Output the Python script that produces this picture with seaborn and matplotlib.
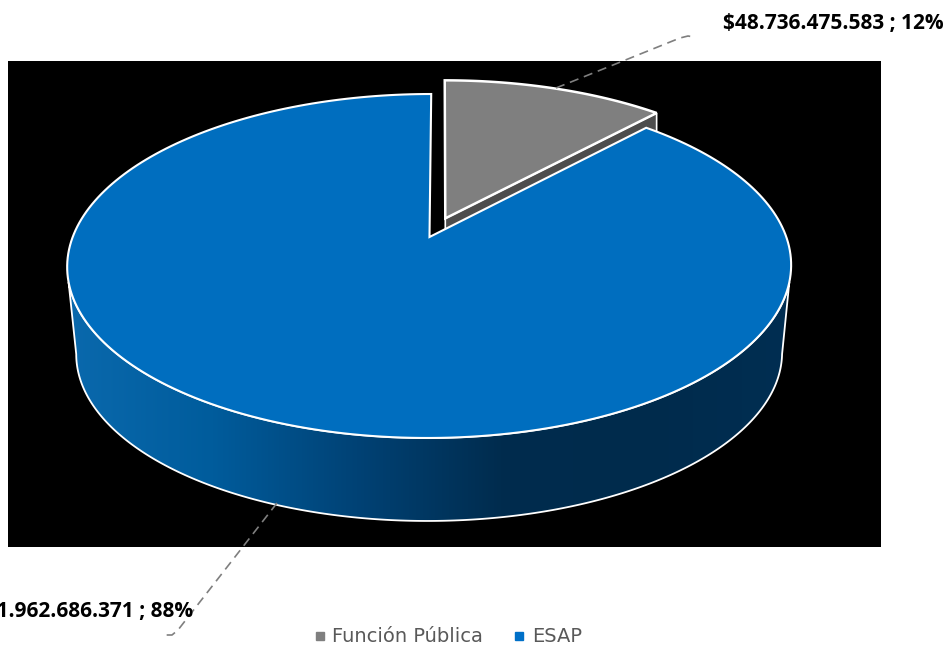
import numpy as np
import seaborn as sns
import matplotlib
matplotlib.use("Agg")
import matplotlib.pyplot as plt
from matplotlib.patches import Polygon
from matplotlib.lines import Line2D

categories = ["Función Pública", "ESAP"]
values = [48736475583, 361962686371]
value_labels = ["$48.736.475.583", "$361.962.686.371"]

sns.set_theme(style="white")

GRAY = "#7f7f7f"
GRAY_SIDE = "#4d4d4d"
BLUE = "#006ebf"
side_cmap = sns.blend_palette(["#0a69ad", "#005c9c", "#004275", "#002c4e", "#002b4c", "#002e52"], as_cmap=True)

W, H = 949, 646
fig = plt.figure(figsize=(W / 100, H / 100), dpi=100)
# axes run in pixels of the black panel
ax = fig.add_axes([8 / W, 1 - 547 / H, 873 / W, 486 / H])
ax.set_facecolor("black")
ax.set_xticks([])
ax.set_yticks([])
for s in ax.spines.values():
    s.set_visible(False)

# perspective of the pie: centre, half sizes, tilt and a slight lean
CX, CY = 429.5, 237
A, B, K, LEAN = 356.8, 167.1, 0.1686, 0.012
BASE_SCALE, DEPTH = 0.975, 88


def project(u, v, scale=1.0, drop=0.0):
    w = 1 + K * v
    up = scale * B * v / w
    return CX + scale * A * u / w + LEAN * up, CY + drop - up


def rim(deg0, deg1, explode=(0, 0), scale=1.0, drop=0.0):
    t = np.radians(np.linspace(deg0, deg1, 240))
    x, y = project(np.sin(t) + explode[0], np.cos(t) + explode[1], scale, drop)
    return np.column_stack([x, y])


shares = np.array(values) / sum(values)
split = shares[0] * 360

# exploded slice
mid = np.radians(split / 2)
off = (0.122 * np.sin(mid), 0.122 * np.cos(mid))
apex_g = np.array(project(off[0], off[1]))
rim_g = rim(0, split, off)
corner = rim_g[-1]
ax.add_patch(Polygon([apex_g, corner, corner + [0, DEPTH], apex_g + [0, DEPTH]],
                     fc=GRAY_SIDE, ec="white", lw=1.2, zorder=2))
ax.add_patch(Polygon(np.vstack([apex_g, rim_g]), fc=GRAY, ec="white", lw=1.8, joinstyle="miter", zorder=3))

# side wall of the big slice
top_front = rim(105, 255)
bot_front = rim(260, 100, scale=BASE_SCALE, drop=DEPTH)
wall = Polygon(np.vstack([top_front, bot_front]), fc="none", ec="white", lw=1.3, zorder=4)
ax.add_patch(wall)
grad = ax.imshow(np.linspace(0, 1, 256)[None, :], cmap=side_cmap, extent=(67, 791, 547, 61),
                 aspect="auto", zorder=3.5)
grad.set_clip_path(wall)
ax.set_xlim(8, 881)
ax.set_ylim(547, 61)

# top of the big slice
rim_b = rim(split, 360)
ax.add_patch(Polygon(np.vstack([[CX, CY], rim_b]), fc=BLUE, ec="white", lw=1.5, joinstyle="miter", zorder=5))

# leader lines
ax.plot([556, 680, 688, 694], [88, 38, 36, 37], color=GRAY, lw=1.2, ls=(0, (5.5, 3.5)), clip_on=False, zorder=6)
ax.plot([277, 178, 172, 163], [503, 630, 635, 635], color=GRAY, lw=1.2, ls=(0, (5.5, 3.5)), clip_on=False, zorder=6)

# data labels
fig.text(944 / W, 1 - 23 / H, f"{value_labels[0]} ; {shares[0]:.0%}", ha="right", va="center",
         family="Open Sans", weight="bold", fontsize=15, color="black")
fig.text(193 / W, 1 - 612 / H, f"{value_labels[1]} ; {shares[1]:.0%}", ha="right", va="center",
         family="Open Sans", weight="bold", fontsize=15, color="black")

# legend
handles = [Line2D([], [], ls="none", marker="s", ms=5.5, color=c) for c in (GRAY, "#0070c8")]
fig.legend(handles, categories, loc="center", bbox_to_anchor=(445 / W, 1 - 637 / H), ncol=2, frameon=False,
           prop={"family": "DejaVu Sans", "size": 14}, labelcolor="#595959",
           handletextpad=0.05, columnspacing=1.25, borderpad=0, handlelength=1.2)

fig.savefig("out.png", dpi=100, facecolor="white")
